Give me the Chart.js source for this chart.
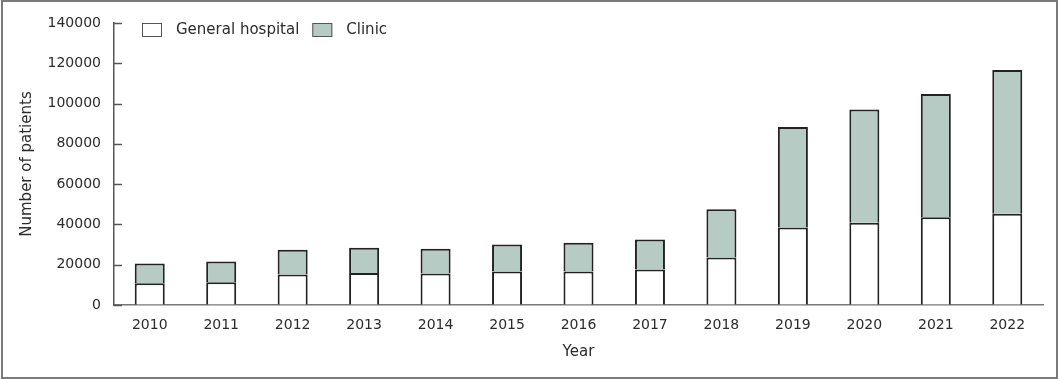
<!DOCTYPE html>
<html>
<head>
<meta charset="utf-8">
<script src="https://cdn.jsdelivr.net/npm/chart.js@4/dist/chart.umd.min.js"></script>
<style>
  html, body { margin: 0; padding: 0; background: #fff; }
  #wrap { position: relative; width: 1059px; height: 379px; }
  #frame { position: absolute; left: 1px; top: 0; width: 1057px; height: 379px; box-sizing: border-box;
           border: 2px solid #7a7a7a; pointer-events: none; }
  canvas { position: absolute; left: 0; top: 0; }
</style>
</head>
<body>
<div id="wrap">
  <canvas id="c" width="1059" height="379"></canvas>
  <div id="frame"></div>
</div>
<script>
const years = ['2010','2011','2012','2013','2014','2015','2016','2017','2018','2019','2020','2021','2022'];
const generalHospital = [10800, 11300, 15100, 15900, 15600, 16600, 16600, 17600, 23600, 38500, 40800, 43600, 45300];
const clinic = [9800, 10300, 12300, 12500, 12300, 13400, 14300, 14900, 23900, 49900, 56200, 61200, 71400];
const yTicks = [0, 20000, 40000, 60000, 80000, 100000, 120000, 140000];

const FONT = 'DejaVu Sans';
const TEXT = '#2b2b2b';

const innerTicks = {
  id: 'innerTicks',
  afterDatasetsDraw(chart) {
    const y = chart.scales.y;
    const left = chart.chartArea.left;
    const ctx = chart.ctx;
    ctx.save();
    ctx.strokeStyle = '#555';
    ctx.lineWidth = 1.5;
    y.ticks.forEach(t => {
      const py = Math.round(y.getPixelForValue(t.value)) + 0.5;
      ctx.beginPath();
      ctx.moveTo(left, py);
      ctx.lineTo(left + 8, py);
      ctx.stroke();
    });
    ctx.restore();
  }
};

// Horizontal legend drawn inside the plot area (top-left), built from the datasets
const inlineLegend = {
  id: 'inlineLegend',
  afterDraw(chart) {
    const ctx = chart.ctx;
    const area = chart.chartArea;
    let x = area.left + 28;
    const top = area.top;
    const bw = 20, bh = 14, gap = 14, itemGap = 13;
    ctx.save();
    ctx.font = '15px "' + FONT + '"';
    ctx.textBaseline = 'middle';
    ctx.textAlign = 'left';
    chart.data.datasets.forEach(ds => {
      ctx.fillStyle = ds.backgroundColor;
      ctx.fillRect(x, top, bw, bh);
      ctx.strokeStyle = '#555';
      ctx.lineWidth = 1;
      ctx.strokeRect(x + 0.5, top + 0.5, bw - 1, bh - 1);
      ctx.fillStyle = TEXT;
      const tx = x + bw + gap;
      ctx.fillText(ds.label, tx, top + bh / 2 + 0.5);
      x = tx + ctx.measureText(ds.label).width + itemGap;
    });
    ctx.restore();
  }
};

new Chart(document.getElementById('c'), {
  type: 'bar',
  data: {
    labels: years,
    datasets: [
      { label: 'General hospital', data: generalHospital, backgroundColor: '#ffffff',
        borderColor: '#222222', borderWidth: 2 },
      { label: 'Clinic', data: clinic, backgroundColor: '#b6cbc3',
        borderColor: '#222222', borderWidth: 2 }
    ]
  },
  options: {
    responsive: false,
    animation: false,
    devicePixelRatio: 1,
    categoryPercentage: 0.84,
    barPercentage: 0.5,
    layout: { padding: { left: 0, right: 16, top: 23, bottom: 0 } },
    plugins: {
      tooltip: { enabled: false },
      legend: { display: false }
    },
    scales: {
      x: {
        stacked: true,
        grid: { display: false, drawTicks: false },
        border: { display: true, color: '#777', width: 1.5 },
        ticks: { color: TEXT, font: { family: FONT, size: 14 }, padding: 12, maxRotation: 0 },
        title: { display: true, text: 'Year', color: TEXT, font: { family: FONT, size: 15 },
                 padding: { top: 0, bottom: 18 } },
        afterFit(s) { s.height = 74; }
      },
      y: {
        stacked: true,
        min: 0, max: 140000,
        afterBuildTicks(s) { s.ticks = yTicks.map(v => ({ value: v })); },
        grid: { display: true, drawOnChartArea: false, drawTicks: false },
        border: { display: true, color: '#555', width: 1.5 },
        ticks: { color: TEXT, font: { family: FONT, size: 14 }, padding: 13,
                 callback: v => String(v) },
        title: { display: true, text: 'Number of patients', color: TEXT, font: { family: FONT, size: 15 },
                 padding: { top: 18, bottom: 0 } },
        afterFit(s) { s.width = 114; }
      }
    }
  },
  plugins: [innerTicks, inlineLegend]
});
</script>
</body>
</html>
